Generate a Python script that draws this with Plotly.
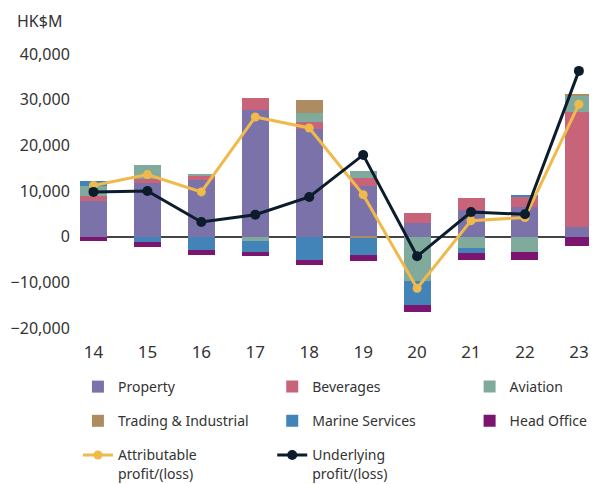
import plotly.graph_objects as go

years = ["14", "15", "16", "17", "18", "19", "20", "21", "22", "23"]

# segment contributions, HK$M
property_ = [7800, 11800, 12400, 27700, 23600, 11100, 3000, 5800, 6400, 2100]
beverages = [1000, 900, 900, 2600, 1500, 1800, 2200, 2600, 2400, 25200]
aviation = [2200, 3100, 400, -1000, 2000, 1500, -9700, -2500, -3400, 3600]
trading = [0, 0, 0, 0, 2800, -300, 0, 0, 0, 200]
marine = [1100, -1100, -2900, -2300, -5100, -3700, -5300, -1100, 400, 0]
head_office = [-1000, -1100, -1100, -900, -1100, -1300, -1500, -1500, -1800, -2000]

attributable = [11200, 13600, 9800, 26200, 23800, 9200, -11300, 3500, 4200, 29000]
underlying = [9800, 10000, 3200, 4800, 8700, 17900, -4300, 5400, 4900, 36300]

FONT = "Noto Sans"
TXT = "#333333"

fig = go.Figure()
# legend column per trace, so the legend reads as a 3-column grid
bars = [
    ("Property", property_, "#7b72aa", "legend"),
    ("Beverages", beverages, "#c8647a", "legend2"),
    ("Aviation", aviation, "#80aa9c", "legend3"),
    ("Trading & Industrial", trading, "#ae8c62", "legend"),
    ("Marine Services", marine, "#4384b8", "legend2"),
    ("Head Office", head_office, "#7b1570", "legend3"),
]
for name, vals, col, lg in bars:
    fig.add_trace(go.Bar(x=list(range(10)), y=vals, name=name, marker_color=col,
                         marker_line_width=0, width=0.5, legend=lg, legendgroup=name))

fig.add_trace(go.Scatter(x=list(range(10)), y=attributable, name="Attributable<br>profit/(loss)",
                         mode="lines+markers", line=dict(color="#f0b94c", width=3),
                         marker=dict(size=9), legend="legend", legendgroup="att"))
fig.add_trace(go.Scatter(x=list(range(10)), y=underlying, name="Underlying<br>profit/(loss)",
                         mode="lines+markers", line=dict(color="#0c1c2b", width=3),
                         marker=dict(size=10), legend="legend2", legendgroup="und"))

leg = dict(orientation="v", xanchor="left", yanchor="top", y=-0.157, valign="top",
           font=dict(family=FONT, size=14, color=TXT), tracegroupgap=13,
           bgcolor="rgba(0,0,0,0)", traceorder="grouped")

# page body has an 8px margin, so the figure is 8px smaller than the window
fig.update_layout(
    width=589, height=476,
    margin=dict(l=72, r=3, t=46, b=156, autoexpand=False),
    plot_bgcolor="white", paper_bgcolor="white",
    barmode="relative", bargap=0,
    font=dict(family=FONT, color=TXT),
    legend=dict(leg, x=-0.004),
    legend2=dict(leg, x=0.374),
    legend3=dict(leg, x=0.758),
    xaxis=dict(range=[-0.25, 9.28], tickvals=list(range(10)), ticktext=years,
               tickfont=dict(size=17), showgrid=False, showline=False, automargin=False,
               ticks="outside", ticklen=9, tickcolor="white"),
    yaxis=dict(range=[-20000, 40000], tickvals=[-20000, -10000, 0, 10000, 20000, 30000, 40000],
               tickformat=",d", tickfont=dict(size=16), showgrid=False, automargin=False,
               zeroline=True, zerolinecolor="#444444", zerolinewidth=1.5,
               ticks="outside", ticklen=6, tickcolor="white"),
    annotations=[dict(text="HK$M", xref="paper", yref="paper", x=-0.127, y=1.0,
                      xanchor="left", yanchor="bottom", yshift=20, showarrow=False,
                      font=dict(family=FONT, size=16, color=TXT))],
)

fig.write_html("out.html")
